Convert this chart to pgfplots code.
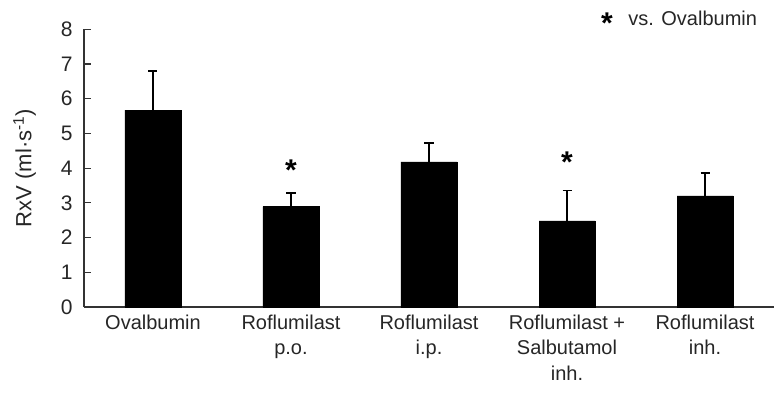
\documentclass[border=0pt]{standalone}
\usepackage{fontspec}
\setmainfont{Liberation Sans}
\usepackage{pgfplots}
\pgfplotsset{compat=1.18}
\begin{document}
\begin{tikzpicture}
\path[use as bounding box] (-84bp,-88bp) rectangle (690bp,307bp);
\begin{axis}[
  scale only axis,
  width=690bp, height=277.7bp,
  xmin=-0.5, xmax=4.5,
  ymin=0, ymax=8,
  ytick={0,1,2,3,4,5,6,7,8},
  xtick={0,1,2,3,4},
  xticklabels={Ovalbumin,Roflumilast\\p.o.,Roflumilast\\i.p.,Roflumilast +\\Salbutamol\\inh.,Roflumilast\\inh.},
  axis lines*=left,
  axis line style={line width=1.3bp, draw=black!80},
  tick style={line width=1.1bp, draw=black!80},
  major tick length=7bp,
  x tick style={draw=none},
  y tick label style={font=\fontsize{21bp}{25bp}\selectfont, text=black!85, xshift=-8bp},
  x tick label style={font=\fontsize{20bp}{25.5bp}\selectfont, text=black!85, align=center, yshift=-4bp},
  /pgf/number format/assume math mode=true,
  ylabel={RxV (ml·s\textsuperscript{-1})},
  ylabel style={font=\fontsize{22bp}{24bp}\selectfont, text=black!85, yshift=18bp},
  clip=false,
]
\addplot[ybar, bar width=56bp, fill=black, draw=black,
  error bars/.cd, y dir=plus, y explicit,
  error bar style={line width=1.3bp, black},
  error mark options={rotate=90, mark size=4.5bp, line width=1.6bp}]
  table[x=x, y=y, y error=e] {
x y e
0 5.67 1.13
1 2.89 0.40
2 4.18 0.55
3 2.48 0.88
4 3.20 0.66
};
\node[font=\bfseries\fontsize{30bp}{30bp}\selectfont] at (axis cs:1,3.95) {*};
\node[font=\bfseries\fontsize{30bp}{30bp}\selectfont] at (axis cs:3,4.18) {*};
\node[font=\bfseries\fontsize{30bp}{30bp}\selectfont] at (rel axis cs:0.758,1.022) {*};
\node[font=\fontsize{20bp}{20bp}\selectfont, text=black!85, anchor=west] at (rel axis cs:0.784,1.04) {vs. Ovalbumin};
\end{axis}
\end{tikzpicture}
\end{document}
